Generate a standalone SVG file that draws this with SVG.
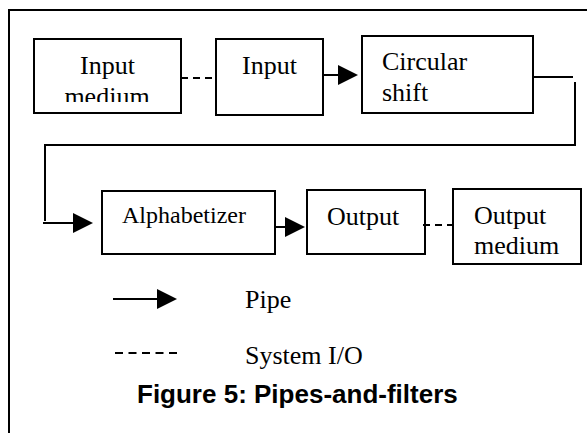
<svg xmlns="http://www.w3.org/2000/svg" width="587" height="433" viewBox="0 0 587 433">
<style>
.box{fill:#fff;stroke:#000;stroke-width:2}
.ln{fill:none;stroke:#000;stroke-width:2}
.dash{fill:none;stroke:#000;stroke-width:2;stroke-dasharray:7 5}
.t{font-family:"Liberation Serif","Times New Roman",serif;font-size:26px;fill:#000}
.ttl{font-family:"Liberation Sans",Arial,sans-serif;font-size:26px;font-weight:bold;fill:#000}
.head{fill:#000}
</style>
<defs>
<clipPath id="clipIM"><rect x="34" y="39" width="147" height="63"/></clipPath>
</defs>
<rect width="587" height="433" fill="#fff"/>
<path class="ln" d="M9,433 V10 H587"/>
<g id="input-medium">
<rect class="box" x="34" y="39" width="147" height="74"/>
<text class="t" x="107.5" y="74" text-anchor="middle">Input</text>
<text class="t" x="107" y="105" text-anchor="middle" clip-path="url(#clipIM)">medium</text>
</g>
<g id="input">
<rect class="box" x="216" y="39" width="107" height="76"/>
<text class="t" x="242" y="74">Input</text>
</g>
<g id="circular-shift">
<rect class="box" x="362" y="36" width="171" height="77"/>
<text class="t" x="382" y="70">Circular</text>
<text class="t" x="382" y="101">shift</text>
</g>
<g id="alphabetizer">
<rect class="box" x="102" y="191" width="173" height="63"/>
<text class="t" x="122" y="223" style="font-size:24px">Alphabetizer</text>
</g>
<g id="output">
<rect class="box" x="307" y="190" width="118" height="64"/>
<text class="t" x="327" y="225">Output</text>
</g>
<g id="output-medium">
<rect class="box" x="453" y="189" width="128" height="75"/>
<text class="t" x="474" y="224">Output</text>
<text class="t" x="474" y="254">medium</text>
</g>
<g id="connectors">
<line class="dash" x1="181" y1="78" x2="216" y2="78"/>
<line class="ln" x1="323" y1="75" x2="340" y2="75"/>
<polygon class="head" points="338,65 358,75 338,85"/>
<line class="ln" x1="533" y1="77" x2="573" y2="77"/>
<line class="ln" x1="575" y1="82" x2="575" y2="146"/>
<line class="ln" x1="576" y1="145" x2="44" y2="145"/>
<line class="ln" x1="45" y1="145" x2="45" y2="221"/>
<line class="ln" x1="43" y1="223" x2="76" y2="223"/>
<polygon class="head" points="73,213 93,223 73,233"/>
<line class="ln" x1="275" y1="227" x2="288" y2="227"/>
<polygon class="head" points="285,217 305,227 285,237"/>
<line class="dash" x1="423" y1="225" x2="454" y2="225"/>
</g>
<g id="legend">
<line class="ln" x1="113" y1="299" x2="160" y2="299"/>
<polygon class="head" points="157,289 177,299 157,309"/>
<text class="t" x="245" y="308">Pipe</text>
<line class="ln" x1="115" y1="353" x2="177" y2="353" style="stroke-dasharray:8 5.5"/>
<text class="t" x="245" y="364">System I/O</text>
</g>
<text class="ttl" x="137" y="403">Figure 5: Pipes-and-filters</text>
</svg>
